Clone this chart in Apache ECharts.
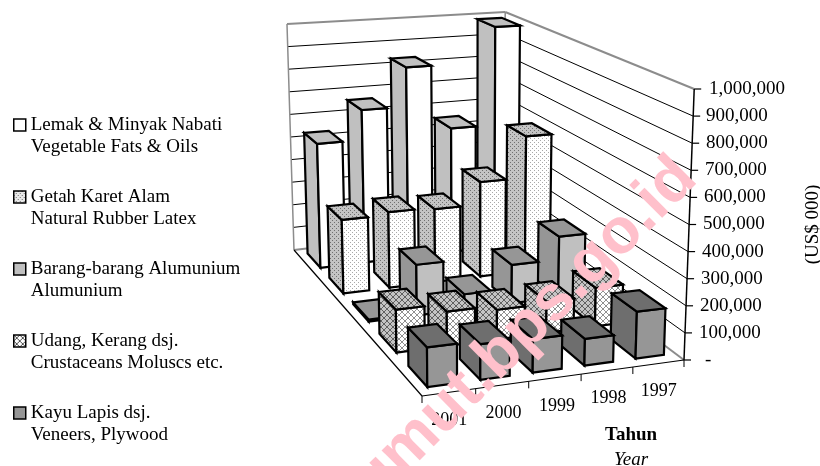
<!DOCTYPE html>
<html><head><meta charset="utf-8">
<style>html,body{margin:0;padding:0;background:#fff}#c{width:820px;height:466px}</style>
<script src="https://cdn.jsdelivr.net/npm/echarts@6/dist/echarts.min.js"></script>
</head><body><div id="c"></div>
<script>
// ---- data ----
const years = ['2001','2000','1999','1998','1997'];
const seriesNames = [
  'Lemak & Minyak Nabati\nVegetable Fats & Oils',
  'Getah Karet Alam\nNatural Rubber Latex',
  'Barang-barang Alumunium\nAlumunium',
  'Udang, Kerang dsj.\nCrustaceans Moluscs etc.',
  'Kayu Lapis dsj.\nVeneers, Plywood'
];
const lemak    = [530000, 660000, 832000, 548000, 987000];
const getah    = [300000, 312000, 305000, 400000, 577000];
const aluminium= [8000, 199000, 60000, 155000, 248000];
const udang    = [158000, 128000, 112000, 120000, 150000];
const kayu     = [138000, 126000, 120000, 97000, 173000];
const yTicks = [0,100000,200000,300000,400000,500000,600000,700000,800000,900000,1000000];
const yTickLabels = ['-','100,000','200,000','300,000','400,000','500,000','600,000','700,000','800,000','900,000','1,000,000'];
const allValues = [lemak, getah, aluminium, udang, kayu];

// ---- layout: the floor quad and wall heights of the 3D box ----
const A=[422,396], B=[684,360], C=[504,225], D=[294,250];
const hB=271, hC=213, hD=226, leanVP=[472,5990];
const barFracU=0.56, barFracV=0.6;
const yLabelNudge=[8,2,3,4,5,6,7,8,9,9,12];
const xLabelNudge=[[1,29],[3,22],[4,15],[3,7],[1,0]];

const sx=A[0]-B[0]+C[0]-D[0], sy=A[1]-B[1]+C[1]-D[1];
const dx1=B[0]-C[0], dy1=B[1]-C[1], dx2=D[0]-C[0], dy2=D[1]-C[1];
const det=dx1*dy2-dx2*dy1;
const hg=(sx*dy2-dx2*sy)/det, hh=(dx1*sy-sx*dy1)/det;
const ha=B[0]-A[0]+hg*B[0], hb=D[0]-A[0]+hh*D[0];
const hd=B[1]-A[1]+hg*B[1], he=D[1]-A[1]+hh*D[1];
const iB=1/hB,iC=1/hC,iD=1/hD,iA=iB+iD-iC;
function proj(u,v,w){
  const dn=hg*u+hh*v+1;
  const x=(ha*u+hb*v+A[0])/dn, y=(hd*u+he*v+A[1])/dn;
  const invH=iA+(iB-iA)*u+(iD-iA)*v;
  const up=w/invH;
  const lean=(x-leanVP[0])/(leanVP[1]-y)*up;
  return [x+lean,y-up];
}
// ---- fills ----
function pat(size,bg,draw){
  const c=document.createElement('canvas');c.width=c.height=size;
  const g=c.getContext('2d');g.fillStyle=bg;g.fillRect(0,0,size,size);draw(g);
  return {image:c,repeat:'repeat'};
}
function dots(bg,fg){return pat(4,bg,g=>{g.fillStyle=fg;g.fillRect(0,0,1,1);g.fillRect(2,2,1,1);});}
function hatch(bg,fg){return pat(6,bg,g=>{g.strokeStyle=fg;g.lineWidth=1;
  g.beginPath();g.moveTo(0,0);g.lineTo(6,6);g.moveTo(6,0);g.lineTo(0,6);g.stroke();});}
const fills=[
 {front:'#ffffff',side:'#c0c0c0',top:'#c0c0c0',legend:'#ffffff'},
 {front:dots('#ffffff','#a8a8a8'),side:dots('#c4c4c4','#707070'),top:dots('#c4c4c4','#707070'),legend:dots('#e8e8e8','#707070')},
 {front:'#c0c0c0',side:'#969696',top:'#969696',legend:'#c0c0c0'},
 {front:hatch('#ffffff','#909090'),side:hatch('#c4c4c4','#606060'),top:hatch('#c4c4c4','#606060'),legend:hatch('#ffffff','#505050')},
 {front:'#969696',side:'#6e6e6e',top:'#6e6e6e',legend:'#969696'}
];
function poly(pts,fill){return {type:'polygon',shape:{points:pts},style:{fill:fill,stroke:'#000',lineWidth:2.2,lineJoin:'miter'}};}
function line(p,q,stroke,w){return {type:'line',shape:{x1:p[0],y1:p[1],x2:q[0],y2:q[1]},style:{stroke:stroke,lineWidth:w}};}
function toUW(api,params,cat,val){
  const cs=params.coordSys, p=api.coord([cat,val]);
  return [(p[0]-cs.x)/cs.width,(cs.y+cs.height-p[1])/cs.height];
}
function barSeries(s){
  const row=4-s;
  return {
    type:'custom',name:seriesNames[s],coordinateSystem:'cartesian2d',clip:false,z:3,
    itemStyle:{color:fills[s].legend},
    data:years.map((y,i)=>[i,allValues[s][i]]).reverse(),
    encode:{x:0,y:1},
    renderItem(params,api){
      const [uc,w]=toUW(api,params,api.value(0),api.value(1));
      const hu=barFracU/5/2, hv=barFracV/5/2, vc=(row+.5)/5;
      const u0=uc-hu,u1=uc+hu,v0=vc-hv,v1=vc+hv;
      const f=fills[s];
      const a0=proj(u0,v0,0),b0=proj(u1,v0,0),d0=proj(u0,v1,0);
      const a1=proj(u0,v0,w),b1=proj(u1,v0,w),c1=proj(u1,v1,w),d1=proj(u0,v1,w);
      return {type:'group',children:[
        poly([d0,a0,a1,d1],f.side),
        poly([a0,b0,b1,a1],f.front),
        poly([a1,b1,c1,d1],f.top)
      ]};
    }
  };
}
const wallSeries={
  type:'custom',silent:true,coordinateSystem:'cartesian2d',clip:false,z:1,
  data:yTicks.map(v=>[0,v]),encode:{x:0,y:1},
  renderItem(params,api){
    const [,w]=toUW(api,params,api.value(0),api.value(1));
    const d=proj(0,1,w),c=proj(1,1,w),b=proj(1,0,w);
    const kids=[];
    if(w>0.999){
      kids.push(line(d,c,'#8c8c8c',2),line(c,b,'#8c8c8c',2));
      kids.push(line(proj(0,1,0),d,'#8c8c8c',1.5),line(proj(1,1,0),c,'#8c8c8c',1.5));
      kids.push(line(proj(1,0,0),b,'#000',1.5));
      for(let i=0;i<=5;i++){const p=proj(i/5,0,0);kids.push(line(p,[p[0],p[1]+7],'#000',1));}
      kids.push(line(proj(0,0,0),proj(1,0,0),'#000',1.2),line(proj(0,0,0),proj(0,1,0),'#000',1.2));
    } else if(w===0){
      kids.push(line(d,c,'#8c8c8c',2),line(c,b,'#8c8c8c',2));
    } else {
      kids.push(line(d,c,'#000',1),line(c,b,'#000',1));
    }
    kids.push(line(b,[b[0]+7,b[1]],'#000',1.2));
    return {type:'group',children:kids};
  }
};
const serif='"Liberation Serif","Times New Roman",serif';
const yRich={},xRich={};
yLabelNudge.forEach((n,i)=>{yRich['y'+i]={padding:[0,0,0,n],fontFamily:serif,fontSize:19,color:'#000'};});
xLabelNudge.forEach((n,i)=>{xRich['x'+i]={padding:[n[1],0,0,n[0]*2],fontFamily:serif,fontSize:18,color:'#000'};});

const chart=echarts.init(document.getElementById('c'),null,{renderer:'canvas'});
chart.setOption({
  animation:false,backgroundColor:'#fff',
  grid:{left:A[0],top:89,width:B[0]-A[0],height:271,outerBoundsMode:'none'},
  xAxis:{type:'category',data:years,axisLine:{show:false},axisTick:{show:false},splitLine:{show:false},
    axisLabel:{interval:0,margin:22,hideOverlap:false,formatter:(v)=>`{x${years.indexOf(v)}|${v}}`,rich:xRich}},
  yAxis:{type:'value',position:'right',min:0,max:1000000,interval:100000,
    axisLine:{show:false},axisTick:{show:false},splitLine:{show:false},
    name:'(US$ 000)',nameLocation:'middle',nameRotate:90,nameGap:120,
    nameTextStyle:{fontFamily:serif,fontSize:19,color:'#000'},
    axisLabel:{margin:13,align:'left',
      formatter:(v)=>{const i=yTicks.indexOf(v);return `{y${i}|${yTickLabels[i]}}`;},rich:yRich}},
  legend:{orient:'vertical',left:8,top:87,itemWidth:12,itemHeight:12,itemGap:6,
    selectedMode:false,formatter:n=>'\n'+n,
    textStyle:{fontFamily:serif,fontSize:19,color:'#000',lineHeight:22},
    data:seriesNames.map((n,s)=>({name:n,icon:'rect',
      itemStyle:{color:fills[s].legend,borderColor:'#000',borderWidth:1.5}}))},
  graphic:[
    {type:'text',left:605,top:426,z:50,style:{text:'Tahun',font:'bold 19px "Liberation Serif"',fill:'#000'}},
    {type:'text',left:614,top:450,z:50,style:{text:'Year',font:'italic 19px "Liberation Serif"',fill:'#000'}},
    {type:'text',x:512,y:343,rotation:45*Math.PI/180,z:100,silent:true,
     style:{text:'sumut.bps.go.id',font:'bold 64px "Liberation Sans"',fill:'#ffc0cb',align:'center',verticalAlign:'middle',blend:'multiply'}}
  ],
  series:[wallSeries].concat(seriesNames.map((n,s)=>barSeries(s)))
});
</script></body></html>
